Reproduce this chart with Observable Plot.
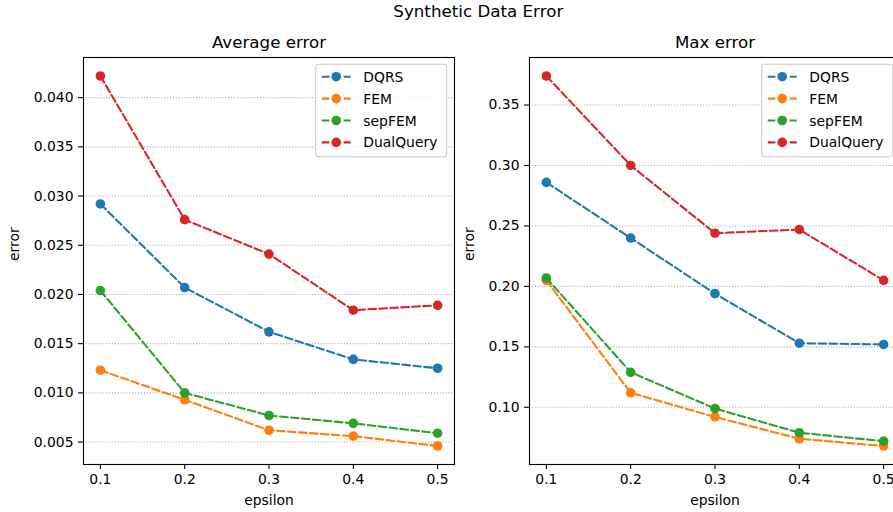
<!DOCTYPE html>
<html><head><meta charset="utf-8">
<script src="https://cdn.jsdelivr.net/npm/d3@7"></script>
<script src="https://cdn.jsdelivr.net/npm/@observablehq/plot@0.6"></script>
<style>
html,body{margin:0;padding:0;background:#fff;overflow:hidden}
#chart{position:relative;width:893px;height:512px;overflow:hidden;font-family:"DejaVu Sans",sans-serif;background:#fff}
#chart svg{position:absolute;top:0}
</style></head><body><div id="chart"></div>
<script>
const suptitle = "Synthetic Data Error";
const epsilon = [0.1, 0.2, 0.3, 0.4, 0.5];
const seriesNames = ["DQRS", "FEM", "sepFEM", "DualQuery"];
const seriesColors = ["#1f77b4", "#ff7f0e", "#2ca02c", "#d62728"];

// Average error
const avgDQRS      = [0.0292, 0.0207, 0.0162, 0.0134, 0.0125];
const avgFEM       = [0.0123, 0.0093, 0.0062, 0.0056, 0.0046];
const avgSepFEM    = [0.0204, 0.0100, 0.0077, 0.0069, 0.0059];
const avgDualQuery = [0.0422, 0.0276, 0.0241, 0.0184, 0.0189];
const avgTicks = [0.005, 0.010, 0.015, 0.020, 0.025, 0.030, 0.035, 0.040];

// Max error
const maxDQRS      = [0.286, 0.240, 0.194, 0.153, 0.152];
const maxFEM       = [0.205, 0.112, 0.092, 0.074, 0.068];
const maxSepFEM    = [0.207, 0.129, 0.099, 0.079, 0.072];
const maxDualQuery = [0.374, 0.300, 0.244, 0.247, 0.205];
const maxTicks = [0.10, 0.15, 0.20, 0.25, 0.30, 0.35];

const xTicks = [0.1, 0.2, 0.3, 0.4, 0.5];

const FS = 13.9;
const container = document.getElementById("chart");

function toRows(valueLists) {
  const rows = [];
  valueLists.forEach((vals, s) => {
    vals.forEach((v, i) => rows.push({series: seriesNames[s], epsilon: epsilon[i], error: v}));
  });
  return rows;
}

function padDomain(lo, hi) {
  const m = (hi - lo) * 0.05;
  return [lo - m, hi + m];
}

function makePanel({title, valueLists, ticks, tickFormat, left, ylabelDx}) {
  const rows = toRows(valueLists);
  const W = 460, H = 512;
  const mL = 83, mR = 6, mT = 57, mB = 48;
  const xd = padDomain(d3.min(epsilon), d3.max(epsilon));
  const yd = padDomain(d3.min(rows, d => d.error), d3.max(rows, d => d.error));
  const seriesMarks = seriesNames.flatMap((name, s) => {
    const data = rows.filter(r => r.series === name);
    return [
      Plot.line(data, {x: "epsilon", y: "error", stroke: seriesColors[s], strokeWidth: 2.08, strokeDasharray: "7.7,3.3"}),
      Plot.dot(data, {x: "epsilon", y: "error", fill: seriesColors[s], r: 4.8, stroke: null})
    ];
  });
  const svg = Plot.plot({
    width: W, height: H,
    marginLeft: mL, marginRight: mR, marginTop: mT, marginBottom: mB,
    style: {fontFamily: "DejaVu Sans", fontSize: FS + "px", color: "black", background: "transparent", overflow: "visible"},
    x: {domain: xd, label: null},
    y: {domain: yd, label: null},
    marks: [
      Plot.gridY(ticks, {stroke: "#b0b0b0", strokeOpacity: 1, strokeWidth: 1.1, strokeDasharray: "1.1,1.8"}),
      ...seriesMarks,
      Plot.frame({stroke: "black", strokeWidth: 1.1}),
      Plot.axisY(ticks, {tickSize: 5, tickPadding: 5, tickFormat, strokeWidth: 1.1, label: null, fontSize: FS}),
      Plot.axisX(xTicks, {tickSize: 5, tickPadding: 5, tickFormat: ".1f", strokeWidth: 1.1, label: null, fontSize: FS}),
      Plot.text([title], {frameAnchor: "top", text: d => d, dy: -10, lineAnchor: "bottom", fontSize: 16.7, fill: "black"}),
      Plot.text(["epsilon"], {frameAnchor: "bottom", text: d => d, dy: 40, lineAnchor: "bottom", fontSize: FS, fill: "black"}),
      Plot.text(["error"], {frameAnchor: "left", text: d => d, dx: ylabelDx, rotate: -90, lineAnchor: "bottom", fontSize: FS, fill: "black"})
    ]
  });
  svg.style.left = left + "px";
  // legend
  const frameRight = W - mR;
  const bw = 131, bh = 92.4;
  const bx = frameRight - 7.3 - bw, by = 64.3;
  const g = d3.select(svg).append("g")
    .attr("font-family", "DejaVu Sans").attr("font-size", FS).attr("text-anchor", "start");
  g.append("rect").attr("x", bx).attr("y", by).attr("width", bw).attr("height", bh)
    .attr("rx", 2.8).attr("fill", "white").attr("fill-opacity", 0.8).attr("stroke", "#cccccc").attr("stroke-width", 1.1);
  seriesNames.forEach((name, i) => {
    const cy = by + 12.4 + i * 21.9;
    const x0 = bx + 6, x1 = bx + 35;
    g.append("line").attr("x1", x0).attr("x2", x1).attr("y1", cy).attr("y2", cy)
      .attr("stroke", seriesColors[i]).attr("stroke-width", 2.08).attr("stroke-dasharray", "7.7,3.3");
    g.append("circle").attr("cx", (x0 + x1) / 2).attr("cy", cy).attr("r", 4.8).attr("fill", seriesColors[i]);
    g.append("text").attr("x", bx + 47.6).attr("y", cy).attr("dy", "0.36em")
      .attr("text-anchor", "start").attr("fill", "black").text(name);
  });
  container.appendChild(svg);
}

makePanel({title: "Average error", valueLists: [avgDQRS, avgFEM, avgSepFEM, avgDualQuery], ticks: avgTicks, tickFormat: ".3f", left: 0, ylabelDx: -64.7});
makePanel({title: "Max error", valueLists: [maxDQRS, maxFEM, maxSepFEM, maxDualQuery], ticks: maxTicks, tickFormat: ".2f", left: 446, ylabelDx: -56});

const headerSvg = d3.select(container).append("svg").attr("width", 893).attr("height", 30).style("left", "0px");
headerSvg.append("text").attr("x", 478.3).attr("y", 17).attr("text-anchor", "middle")
  .attr("font-family", "DejaVu Sans").attr("font-size", 16.7).attr("fill", "black").text(suptitle);
</script></body></html>
